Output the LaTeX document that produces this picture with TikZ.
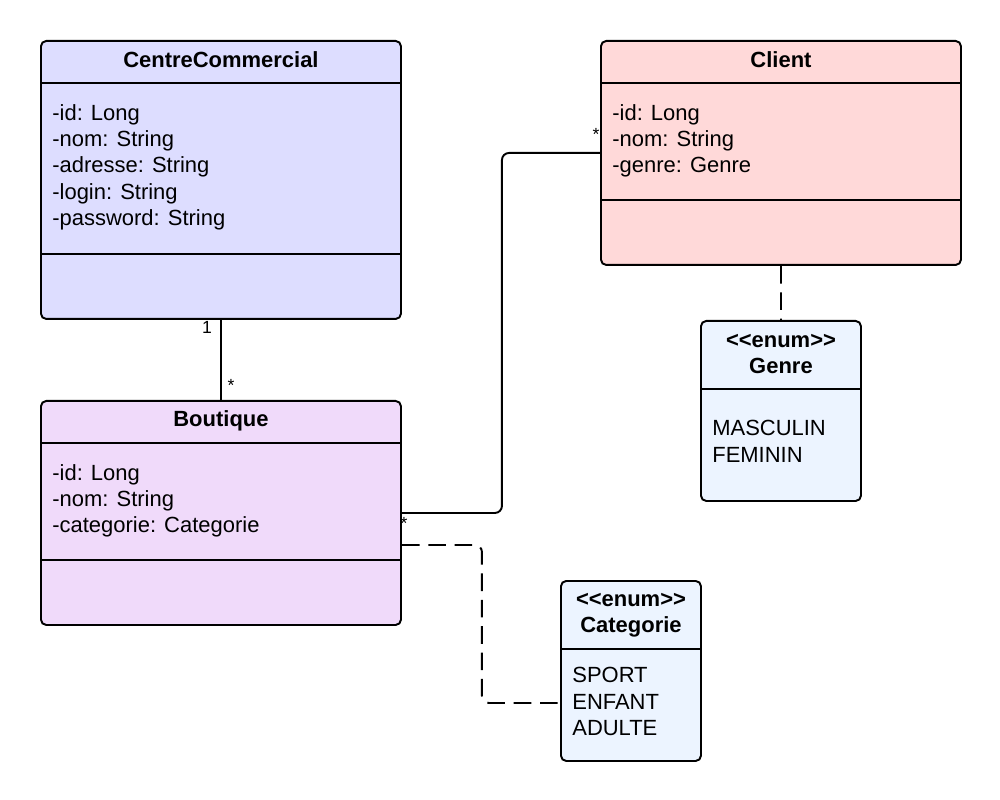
\documentclass[tikz,border=0pt]{standalone}
\usepackage{fontspec}
\setmainfont{Liberation Sans}
\definecolor{ccfill}{RGB}{221,221,255}
\definecolor{clientfill}{RGB}{255,217,217}
\definecolor{boutfill}{RGB}{240,218,250}
\definecolor{enumfill}{RGB}{236,244,255}

\begin{document}
\begin{tikzpicture}[
    classbox/.style={draw, line width=1.1pt, rounded corners=3pt, inner sep=0pt, anchor=north west},
    sep/.style={line width=1.1pt},
    title/.style={font=\fontsize{12.5}{15}\selectfont\bfseries, align=center, inner sep=0pt},
    attrs/.style={font=\fontsize{12.5}{15}\selectfont, align=left, anchor=north west, inner sep=0pt},
    mult/.style={font=\fontsize{10}{12}\selectfont, inner sep=0pt},
    link/.style={line width=1.1pt, rounded corners=4pt},
    dep/.style={link, dash pattern=on 10pt off 5pt}]

    \useasboundingbox (0,0) rectangle (20,-16);

    % classes
    \node[classbox, fill=ccfill, minimum width=7.2cm, minimum height=5.56cm] (cc) at (0.8,-0.8) {};
    \draw[sep] ([yshift=-0.86cm]cc.north west) -- ([yshift=-0.86cm]cc.north east);
    \draw[sep] ([yshift=-4.28cm]cc.north west) -- ([yshift=-4.28cm]cc.north east);
    \node[title] (cctitle) at ([yshift=-0.4cm]cc.north) {CentreCommercial};
    \node[attrs] (ccattrs) at ([xshift=0.24cm, yshift=-1.28cm]cc.north west) {-id: Long\\-nom: String\\-adresse: String\\-login: String\\-password: String};

    \node[classbox, fill=clientfill, minimum width=7.2cm, minimum height=4.48cm] (client) at (12.0,-0.8) {};
    \draw[sep] ([yshift=-0.86cm]client.north west) -- ([yshift=-0.86cm]client.north east);
    \draw[sep] ([yshift=-3.2cm]client.north west) -- ([yshift=-3.2cm]client.north east);
    \node[title] (clienttitle) at ([yshift=-0.4cm]client.north) {Client};
    \node[attrs] (clientattrs) at ([xshift=0.24cm, yshift=-1.28cm]client.north west) {-id: Long\\-nom: String\\-genre: Genre};

    \node[classbox, fill=boutfill, minimum width=7.2cm, minimum height=4.48cm] (boutique) at (0.8,-8.0) {};
    \draw[sep] ([yshift=-0.86cm]boutique.north west) -- ([yshift=-0.86cm]boutique.north east);
    \draw[sep] ([yshift=-3.2cm]boutique.north west) -- ([yshift=-3.2cm]boutique.north east);
    \node[title] (bouttitle) at ([yshift=-0.42cm]boutique.north) {Boutique};
    \node[attrs] (boutattrs) at ([xshift=0.24cm, yshift=-1.28cm]boutique.north west) {-id: Long\\-nom: String\\-categorie: Categorie};

    % enums
    \node[classbox, fill=enumfill, minimum width=3.2cm, minimum height=3.6cm] (genre) at (14.0,-6.4) {};
    \draw[sep] ([yshift=-1.38cm]genre.north west) -- ([yshift=-1.38cm]genre.north east);
    \node[title] (genretitle) at ([yshift=-0.68cm]genre.north) {<\kern0pt<enum>\kern0pt>\\Genre};
    \node[attrs] (genrevals) at ([xshift=0.24cm, yshift=-2.0cm]genre.north west) {MASCULIN\\FEMININ};

    \node[classbox, fill=enumfill, minimum width=2.8cm, minimum height=3.6cm] (categorie) at (11.2,-11.6) {};
    \draw[sep] ([yshift=-1.38cm]categorie.north west) -- ([yshift=-1.38cm]categorie.north east);
    \node[title] (cattitle) at ([yshift=-0.7cm]categorie.north) {<\kern0pt<enum>\kern0pt>\\Categorie};
    \node[attrs] (catvals) at ([xshift=0.24cm, yshift=-1.74cm]categorie.north west) {SPORT\\ENFANT\\ADULTE};

    % associations
    \draw[link] (cc.south) -- (boutique.north);
    \node[mult] at (4.14,-6.54) {1};
    \node[mult] at (4.62,-7.7) {*};

    \draw[link] (boutique.east) -- ++(2,0) |- (client.west);
    \node[mult] at (11.92,-2.68) {*};
    \node[mult] at (8.08,-10.46) {*};

    \draw[dep] ([yshift=-0.64cm]boutique.east) -- ++(1.6,0) |- ([yshift=-0.64cm]categorie.west);
    \draw[dep] (client.south) -- (genre.north);
\end{tikzpicture}
\end{document}
